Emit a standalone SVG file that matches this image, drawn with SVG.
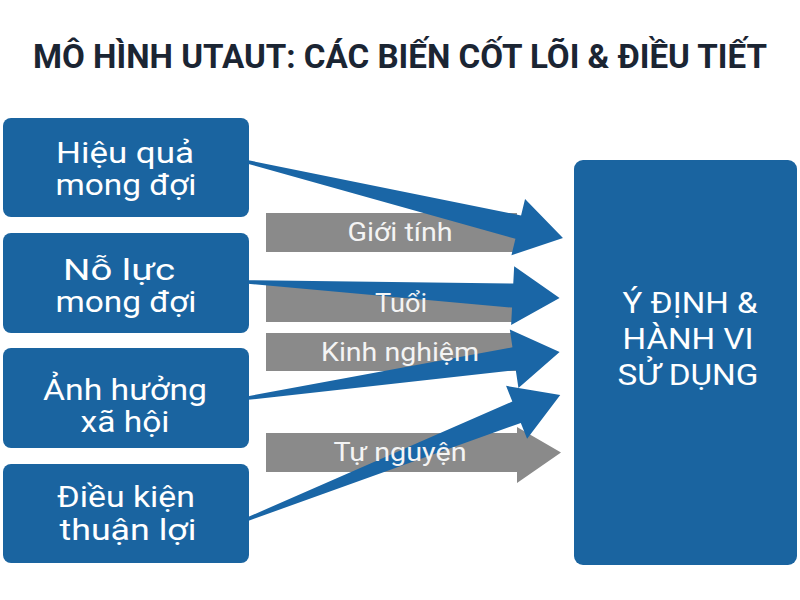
<svg xmlns="http://www.w3.org/2000/svg" width="800" height="600" viewBox="0 0 800 600">
  <style>
    .title { font-family: Roboto, "Liberation Sans", sans-serif; font-weight: 700; font-size: 34px; fill: #1b2533; }
    .box { fill: #1a64a0; }
    .boxtxt { font-family: Roboto, "Liberation Sans", sans-serif; font-weight: 400; font-size: 30px; fill: #ffffff; text-anchor: middle; }
    .mod { fill: #8a8a8a; }
    .modtxt { font-family: Roboto, "Liberation Sans", sans-serif; font-weight: 400; font-size: 25px; fill: #f4f4f4; text-anchor: middle; }
    .arrow { fill: #1a66a6; }
  </style>
  <rect width="800" height="600" fill="#ffffff"/>
  <text class="title" x="33" y="68" textLength="734" lengthAdjust="spacingAndGlyphs">MÔ HÌNH UTAUT: CÁC BIẾN CỐT LÕI &amp; ĐIỀU TIẾT</text>

  <g id="hieu-qua-mong-doi">
    <rect class="box" x="3" y="118" width="246" height="99" rx="8"/>
    <text class="boxtxt" x="125" y="163" textLength="138" lengthAdjust="spacingAndGlyphs">Hiệu quả</text>
    <text class="boxtxt" x="126" y="195" textLength="141" lengthAdjust="spacingAndGlyphs">mong đợi</text>
  </g>
  <g id="no-luc-mong-doi">
    <rect class="box" x="3" y="233" width="246" height="100" rx="8"/>
    <text class="boxtxt" x="119" y="280" textLength="112" lengthAdjust="spacingAndGlyphs">Nỗ lực</text>
    <text class="boxtxt" x="126" y="312" textLength="141" lengthAdjust="spacingAndGlyphs">mong đợi</text>
  </g>
  <g id="anh-huong-xa-hoi">
    <rect class="box" x="3" y="348" width="246" height="100" rx="8"/>
    <text class="boxtxt" x="125" y="400" textLength="164" lengthAdjust="spacingAndGlyphs">Ảnh hưởng</text>
    <text class="boxtxt" x="125" y="432" textLength="89" lengthAdjust="spacingAndGlyphs">xã hội</text>
  </g>
  <g id="dieu-kien-thuan-loi">
    <rect class="box" x="3" y="464" width="246" height="99" rx="8"/>
    <text class="boxtxt" x="126" y="507" textLength="138" lengthAdjust="spacingAndGlyphs">Điều kiện</text>
    <text class="boxtxt" x="128" y="540" textLength="137" lengthAdjust="spacingAndGlyphs">thuận lợi</text>
  </g>

  <g id="y-dinh-hanh-vi">
    <rect class="box" x="574" y="160" width="223" height="405" rx="9"/>
    <text class="boxtxt" x="690" y="313" textLength="135" lengthAdjust="spacingAndGlyphs">Ý ĐỊNH &amp;</text>
    <text class="boxtxt" x="688" y="349" textLength="131" lengthAdjust="spacingAndGlyphs">HÀNH VI</text>
    <text class="boxtxt" x="688" y="385" textLength="141" lengthAdjust="spacingAndGlyphs">SỬ DỤNG</text>
  </g>

  <g id="moderator-shapes">
    <rect id="gioi-tinh-bar" class="mod" x="266" y="213" width="251" height="39"/>
    <rect id="tuoi-bar" class="mod" x="266" y="284" width="251" height="38"/>
    <rect id="kinh-nghiem-bar" class="mod" x="266" y="333" width="251" height="38"/>
    <polygon id="tu-nguyen-bar" class="mod" points="266,433 517,433 517,427 561,452.5 517,483 517,472 266,472"/>
  </g>

  <g id="connectors">
    <polygon class="arrow" transform="translate(248,162) rotate(13.56)" points="0,-1.8 278,-12 278,-29 324,0 278,29 278,12 0,1.8"/>
    <polygon class="arrow" transform="translate(248,282) rotate(2.94)" points="0,-1.8 265,-12 265,-29.5 312,0 265,29.5 265,12 0,1.8"/>
    <polygon class="arrow" transform="translate(248,398) rotate(-8.39)" points="0,-1.8 269,-11.5 269,-29.5 315,0 269,29.5 269,11.5 0,1.8"/>
    <polygon class="arrow" transform="translate(248,519) rotate(-21.67)" points="0,-1.8 289,-11.5 289,-28.5 336,0 289,28.5 289,11.5 0,1.8"/>
  </g>

  <g id="moderator-labels">
    <text class="modtxt" x="400" y="241" textLength="105" lengthAdjust="spacingAndGlyphs">Giới tính</text>
    <text class="modtxt" x="401" y="312" textLength="52" lengthAdjust="spacingAndGlyphs">Tuổi</text>
    <text class="modtxt" x="400" y="361" textLength="158" lengthAdjust="spacingAndGlyphs">Kinh nghiệm</text>
    <text class="modtxt" x="400" y="461" textLength="133" lengthAdjust="spacingAndGlyphs">Tự nguyện</text>
  </g>
</svg>
